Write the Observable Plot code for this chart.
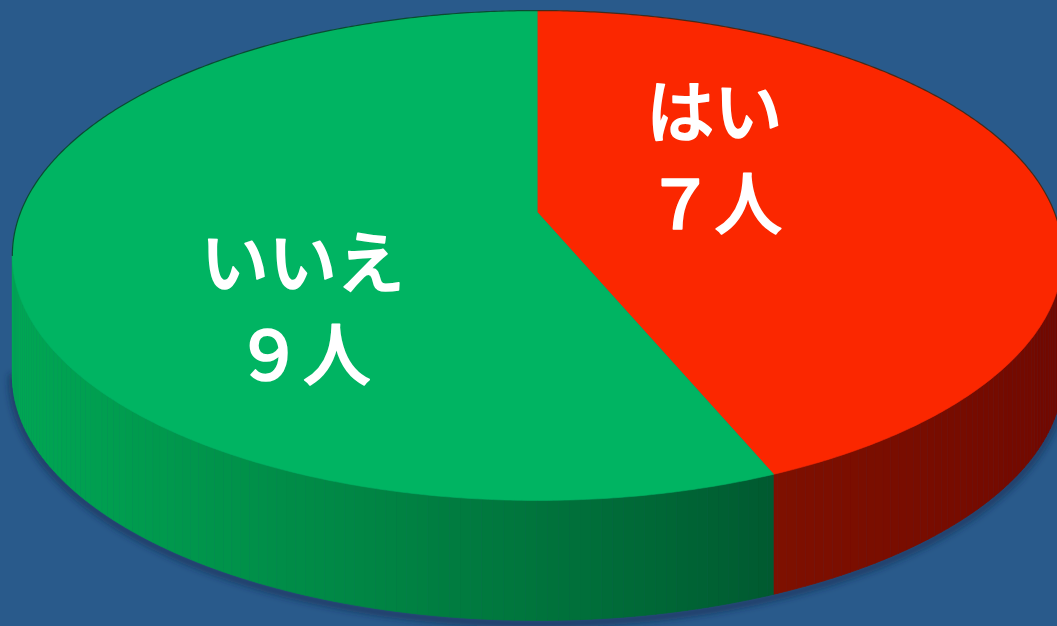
<!DOCTYPE html>
<html>
<head>
<meta charset="utf-8">
<script src="https://cdn.jsdelivr.net/npm/d3@7"></script>
<script src="https://cdn.jsdelivr.net/npm/@observablehq/plot@0.6"></script>
<style>
  html, body { margin: 0; padding: 0; background: #295a8b; overflow: hidden; }
  #chart svg { display: block; }
</style>
</head>
<body>
<div id="chart"></div>
<script>
// ---- data ----
const categories = ["はい", "いいえ"];
const counts = [7, 9];
const countLabels = ["７人", "９人"];

// ---- styles / view ----
const W = 1057, H = 626;
const view = {cx: 537, cy: 212, A: 517, B: 237.4, e: 0.1755, depth: 120};
const topColors = ["#fb2700", "#00b462"];
const sideColors = [["#7e1000", "#700800"], ["#00a854", "#005a30"]];
const bg = "#295a8b";

// perspective projection of a point on the pie disc (r in 0..1, angle clockwise from top)
function project(r, deg, drop = 0) {
  const t = deg * Math.PI / 180;
  const u = r * Math.sin(t), v = r * Math.cos(t);
  const w = 1 + view.e * v;
  return [view.cx + view.A * u / w, view.cy - view.B * v / w + drop];
}

const total = d3.sum(counts);
const ends = Array.from(d3.cumsum(counts), c => c / total * 360);
const slices = categories.map((c, i) => ({
  i, category: c, count: counts[i],
  label: c + "\n" + countLabels[i],
  start: i ? ends[i - 1] : 0, end: ends[i]
}));
const sliceAt = a => slices.find(s => a >= s.start && a <= s.end) || slices[slices.length - 1];

// top face polygons
const topPts = [];
for (const s of slices) {
  const [vx, vy] = project(0, 0);
  topPts.push({id: "t" + s.i, x: vx, y: vy, fill: topColors[s.i]});
  const n = Math.ceil((s.end - s.start) / 0.5);
  for (let k = 0; k <= n; k++) {
    const a = s.start + (s.end - s.start) * k / n;
    const [x, y] = project(1, a);
    topPts.push({id: "t" + s.i, x, y, fill: topColors[s.i]});
  }
}

// visible side wall between the two silhouette angles
const thetaR = Math.acos(-view.e) * 180 / Math.PI;
let angles = d3.range(thetaR, 360 - thetaR, 1);
for (const s of slices) { if (s.end > thetaR && s.end < 360 - thetaR) angles.push(s.end); }
angles.push(360 - thetaR);
angles = Array.from(new Set(angles)).sort((a, b) => a - b);

const sidePts = [];
for (let k = 0; k < angles.length - 1; k++) {
  const a0 = angles[k], a1 = angles[k + 1], am = (a0 + a1) / 2;
  const s = sliceAt(am);
  const sn = Math.sin(am * Math.PI / 180);
  let col;
  if (s.i === 1) {
    const f = Math.max(0, Math.min(1, (sn + 1) / 1.38));
    col = d3.interpolateRgb(sideColors[1][0], sideColors[1][1])(Math.pow(f, 1.25));
  } else {
    const f = Math.max(0, Math.min(1, (sn - 0.38) / 0.62));
    col = d3.interpolateRgb(sideColors[0][0], sideColors[0][1])(f);
  }
  const p = [project(1, a0), project(1, a1), project(1, a1, view.depth), project(1, a0, view.depth)];
  for (const [x, y] of p) sidePts.push({id: "s" + k, x, y, fill: col});
}

// shadow under the wall
const shadowPts = d3.range(thetaR, 360 - thetaR + 0.5, 1).map(a => {
  const [x, y] = project(1, a, view.depth + 3);
  return {x, y};
});

// back rim outline
const rimPts = d3.range(-thetaR, thetaR + 0.5, 0.5).map(a => {
  const [x, y] = project(1, a);
  return {x, y};
});

const labelMark = (i, dx, dy) => Plot.text(slices.filter(s => s.i === i), {
  x: s => project(0.45, (s.start + s.end) / 2)[0],
  y: s => project(0.45, (s.start + s.end) / 2)[1],
  text: "label",
  fill: "white",
  stroke: "white",
  strokeWidth: 1.6,
  fontSize: 68,
  fontWeight: 500,
  fontFamily: "'Noto Sans CJK JP', 'Noto Sans', sans-serif",
  lineHeight: 1.35,
  textAnchor: "middle",
  dx, dy
});

const chart = Plot.plot({
  width: W, height: H,
  margin: 0,
  style: {background: bg, overflow: "visible"},
  x: {domain: [0, W], range: [0, W], axis: null},
  y: {domain: [0, H], range: [0, H], axis: null},
  color: {type: "identity"},
  marks: [
    Plot.line(shadowPts, {x: "x", y: "y", stroke: "#112c4a", strokeWidth: 8, strokeOpacity: 0.55}),
    Plot.line(sidePts, {x: "x", y: "y", z: "id", fill: "fill", stroke: "fill", strokeWidth: 0.8}),
    Plot.line(topPts, {x: "x", y: "y", z: "id", fill: "fill", stroke: "fill", strokeWidth: 0.6}),
    Plot.line(rimPts, {x: "x", y: "y", stroke: "#0b2818", strokeWidth: 1.2, strokeOpacity: 0.7}),
    labelMark(0, -48, -38),
    labelMark(1, -3, 71)
  ]
});

// soften the shadow
const ns = "http://www.w3.org/2000/svg";
const defs = document.createElementNS(ns, "defs");
defs.innerHTML = '<filter id="soft" x="-10%" y="-10%" width="120%" height="130%"><feGaussianBlur stdDeviation="3"/></filter>';
chart.insertBefore(defs, chart.firstChild);
const firstLine = chart.querySelector('g[aria-label="line"]');
if (firstLine) firstLine.setAttribute("filter", "url(#soft)");

document.getElementById("chart").appendChild(chart);
</script>
</body>
</html>
